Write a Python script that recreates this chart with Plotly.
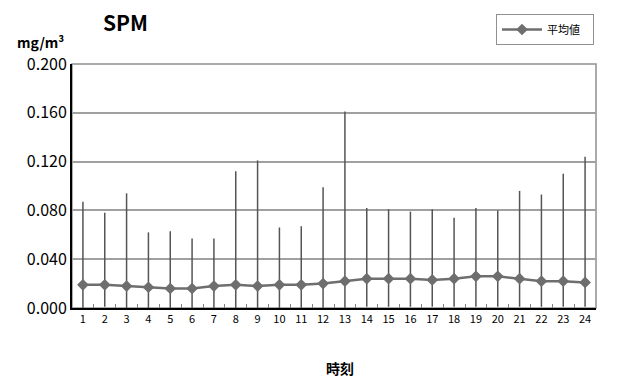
import plotly.graph_objects as go

hours = [str(h) for h in range(1, 25)]
mean_vals = [0.019, 0.019, 0.018, 0.017, 0.016, 0.016, 0.018, 0.019, 0.018, 0.019, 0.019, 0.020,
             0.022, 0.024, 0.024, 0.024, 0.023, 0.024, 0.026, 0.026, 0.024, 0.022, 0.022, 0.021]
max_vals = [0.087, 0.078, 0.094, 0.062, 0.063, 0.057, 0.057, 0.112, 0.121, 0.066, 0.067, 0.099,
            0.161, 0.082, 0.081, 0.079, 0.081, 0.074, 0.082, 0.080, 0.096, 0.093, 0.110, 0.124]
min_vals = [0.000, 0.001, 0.000, 0.000, 0.000, 0.000, 0.000, 0.000, 0.000, 0.000, 0.000, 0.000,
            0.000, 0.001, 0.001, 0.001, 0.001, 0.001, 0.001, 0.001, 0.001, 0.001, 0.001, 0.001]
y_ticks = [0.0, 0.04, 0.08, 0.12, 0.16, 0.2]

JP = "Noto Sans CJK JP"

fig = go.Figure()
fig.add_trace(go.Scatter(
    x=hours, y=mean_vals, name="平均値\u00a0\u00a0\u00a0", mode="lines+markers",
    line=dict(color="#6e6e6e", width=2.5),
    marker=dict(symbol="diamond", size=9, color="#6e6e6e"),
    error_y=dict(type="data", symmetric=False,
                 array=[mx - m for mx, m in zip(max_vals, mean_vals)],
                 arrayminus=[m - mn for m, mn in zip(mean_vals, min_vals)],
                 width=0, thickness=1.5, color="#555555"),
))

fig.update_layout(
    width=617, height=380,
    margin=dict(l=72, r=21, t=64, b=72),
    paper_bgcolor="white", plot_bgcolor="white",
    font=dict(family=JP, color="#000000"),
    showlegend=True,
    legend=dict(x=(496 - 72) / 524, y=(308 - 14) / 244, xanchor="left", yanchor="top",
                bordercolor="#909090", borderwidth=1, bgcolor="white",
                font=dict(size=11, family=JP), itemwidth=40,
                tracegroupgap=0),
    xaxis=dict(type="category", range=[-0.5, 23.5], showgrid=False, showline=True,
               linecolor="#000000", linewidth=2, tickangle=0,
               ticks="inside", tickson="boundaries", ticklen=4, tickcolor="#808080",
               tickfont=dict(size=11, family=JP), zeroline=False),
    yaxis=dict(range=[0, 0.2], tickvals=y_ticks, tickformat=".3f", showgrid=True,
               gridcolor="#a0a0a0", gridwidth=1.5, showline=True, linecolor="#000000",
               linewidth=2, ticks="", tickfont=dict(size=16, family=JP), zeroline=False),
    shapes=[dict(type="rect", xref="paper", yref="paper", x0=0, y0=0, x1=1, y1=1,
                 line=dict(color="#909090", width=1.5), layer="below")],
    annotations=[
        dict(text="<b>SPM</b>", xref="paper", yref="paper", x=(125 - 72) / 524, y=(308 - 22) / 244,
             xanchor="center", yanchor="middle", showarrow=False, font=dict(size=21, family=JP)),
        dict(text="<b>mg/m³</b>", xref="paper", yref="paper", x=(40 - 72) / 524, y=(308 - 42) / 244,
             xanchor="center", yanchor="middle", showarrow=False, font=dict(size=14, family=JP)),
        dict(text="<b>時刻</b>", xref="paper", yref="paper", x=(340 - 72) / 524, y=(308 - 368) / 244,
             xanchor="center", yanchor="middle", showarrow=False, font=dict(size=14, family=JP)),
    ],
)

fig.write_html("out.html")
